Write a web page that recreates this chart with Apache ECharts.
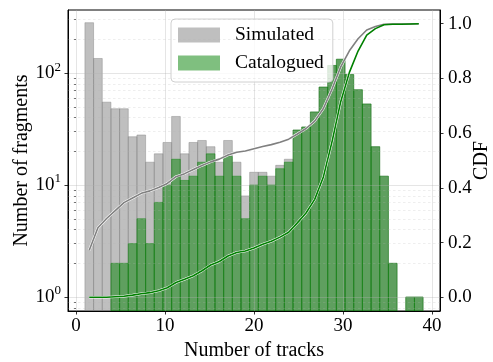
<!DOCTYPE html>
<html>
<head>
<meta charset="utf-8">
<script src="https://cdn.jsdelivr.net/npm/echarts@6/dist/echarts.min.js"></script>
<style>
  html, body { margin: 0; padding: 0; background: #ffffff; }
  #chart { width: 493px; height: 362px; }
</style>
</head>
<body>
<div id="chart"></div>
<script>
// Histogram bin edges (39 equal bins spanning 1..39 tracks)
const binEdges = [1.000, 1.974, 2.949, 3.923, 4.897, 5.872, 6.846, 7.821, 8.795, 9.769,
  10.744, 11.718, 12.692, 13.667, 14.641, 15.615, 16.590, 17.564, 18.538, 19.513,
  20.487, 21.462, 22.436, 23.410, 24.385, 25.359, 26.333, 27.308, 28.282, 29.256,
  30.231, 31.205, 32.179, 33.154, 34.128, 35.103, 36.077, 37.051, 38.026, 39.000];

// Fragment counts per bin
const simulatedCounts = [282, 135, 55, 48, 48, 27, 28, 16, 19, 24,
  41, 19, 24, 25, 22, 16, 25, 16, 8, 13,
  13, 12, 15, 17, 31, 33, 45, 75, 117, 133,
  97, 71, 53, 22, 12, 2, 0, 1, 1];
const cataloguedCounts = [0, 0, 0, 2, 2, 3, 5, 3, 7, 10,
  17, 11, 12, 16, 19, 12, 18, 12, 5, 10,
  12, 10, 14, 16, 31, 33, 45, 75, 117, 133,
  97, 71, 53, 22, 12, 2, 0, 1, 1];

// Cumulative fractions at each bin centre
const simulatedCdf = [0.172, 0.254, 0.288, 0.317, 0.346, 0.363, 0.380, 0.389, 0.401, 0.416,
  0.441, 0.452, 0.467, 0.482, 0.495, 0.505, 0.520, 0.530, 0.535, 0.543,
  0.551, 0.558, 0.567, 0.578, 0.597, 0.617, 0.644, 0.690, 0.761, 0.842,
  0.901, 0.945, 0.977, 0.990, 0.998, 0.999, 0.999, 0.999, 1.000];
const cataloguedCdf = [0.000, 0.000, 0.000, 0.002, 0.004, 0.008, 0.013, 0.017, 0.024, 0.035,
  0.054, 0.066, 0.079, 0.097, 0.118, 0.131, 0.151, 0.164, 0.169, 0.180,
  0.194, 0.205, 0.220, 0.238, 0.272, 0.308, 0.358, 0.440, 0.569, 0.715,
  0.822, 0.900, 0.958, 0.982, 0.996, 0.998, 0.998, 0.999, 1.000];

// Axis ticks
const xTicks = [0, 10, 20, 30, 40];
const cdfTicks = [0, 0.2, 0.4, 0.6, 0.8, 1.0];
const logMajorTicks = [1, 10, 100];
const logMinorTicks = [0.8, 0.9, 2, 3, 4, 5, 6, 7, 8, 9, 20, 30, 40, 50, 60, 70, 80, 90, 200, 300];

const FONT = 'Liberation Serif';
const gridColor = 'rgba(176,176,176,0.42)';
const minorGridColor = 'rgba(176,176,176,0.28)';

const binCentres = binEdges.slice(0, -1).map((lo, i) => (lo + binEdges[i + 1]) / 2);
const histData = counts => counts.map((c, i) => [binEdges[i], binEdges[i + 1], c]);
const cdfData = cdf => cdf.map((v, i) => [binCentres[i], v]);

function histItem(fill, stroke) {
  return function (params, api) {
    const v = api.value(2);
    if (!(v > 0)) return null;
    const a = api.coord([api.value(0), v]);
    const b = api.coord([api.value(1), v]);
    const base = params.coordSys.y + params.coordSys.height;
    return {
      type: 'rect',
      shape: { x: a[0], y: a[1], width: b[0] - a[0], height: base - a[1] },
      style: { fill: fill, stroke: stroke, lineWidth: 0.8 }
    };
  };
}

const chart = echarts.init(document.getElementById('chart'), null, { renderer: 'canvas' });

chart.setOption({
  animation: false,
  backgroundColor: '#ffffff',
  grid: {
    left: 68, right: 53, top: 10, bottom: 51,
    containLabel: false,
    outerBoundsMode: 'none',
    show: true, borderColor: '#000000', borderWidth: 1, backgroundColor: 'transparent'
  },
  legend: {
    left: 171, top: 19,
    orient: 'vertical',
    z: 5,
    itemWidth: 42, itemHeight: 15, itemGap: 8,
    padding: [6, 9, 9, 7],
    backgroundColor: 'rgba(255,255,255,0.8)',
    borderColor: '#d0d0d0', borderWidth: 1, borderRadius: 4,
    icon: 'rect',
    textStyle: { fontFamily: FONT, fontSize: 19.5, color: '#000000', padding: [0, 0, 0, 10] },
    data: [
      { name: 'Simulated', itemStyle: { color: 'rgba(128,128,128,0.5)', borderWidth: 0 } },
      { name: 'Catalogued', itemStyle: { color: 'rgba(0,128,0,0.5)', borderWidth: 0 } }
    ]
  },
  xAxis: {
    type: 'value', min: -0.9, max: 40.9, z: 3,
    axisLine: { onZero: false, lineStyle: { color: '#000000', width: 1 } },
    axisTick: { length: 3.5, customValues: xTicks, lineStyle: { color: '#000000', width: 0.8 } },
    axisLabel: { customValues: xTicks, margin: 6, fontFamily: FONT, fontSize: 19, color: '#000000' },
    splitLine: { show: true, lineStyle: { color: gridColor, width: 0.8 } },
    name: 'Number of tracks', nameLocation: 'middle', nameGap: 30, nameMoveOverlap: false,
    nameTextStyle: { fontFamily: FONT, fontSize: 20, color: '#000000' }
  },
  yAxis: [
    {
      type: 'log', min: 0.75, max: 366, position: 'left', z: 3,
      axisLine: { onZero: false, lineStyle: { color: '#000000', width: 1 } },
      axisTick: { length: 3.5, customValues: logMajorTicks, lineStyle: { color: '#000000', width: 0.8 } },
      axisLabel: {
        customValues: logMajorTicks, margin: 7,
        formatter: v => '{b|10}{s|' + Math.round(Math.log10(v)) + '}',
        rich: {
          b: { fontFamily: FONT, fontSize: 19, color: '#000000' },
          s: { fontFamily: FONT, fontSize: 13, color: '#000000', padding: [0, 0, 12, 0] }
        }
      },
      splitLine: { show: true, lineStyle: { color: gridColor, width: 0.8 } },
      name: 'Number of fragments', nameLocation: 'middle', nameGap: 36, nameRotate: 90,
      nameMoveOverlap: false,
      nameTextStyle: { fontFamily: FONT, fontSize: 20, color: '#000000' }
    },
    {
      type: 'value', min: -0.05, max: 1.05, position: 'right', z: 3,
      axisLine: { onZero: false, lineStyle: { color: '#000000', width: 1 } },
      axisTick: { length: 3.5, customValues: cdfTicks, lineStyle: { color: '#000000', width: 0.8 } },
      axisLabel: {
        customValues: cdfTicks, margin: 8,
        formatter: v => v.toFixed(1),
        fontFamily: FONT, fontSize: 19, color: '#000000'
      },
      splitLine: { show: false },
      name: 'CDF', nameLocation: 'middle', nameGap: 32, nameRotate: 90,
      nameMoveOverlap: false,
      nameTextStyle: { fontFamily: FONT, fontSize: 20, color: '#000000' }
    },
    {
      // minor ticks of the logarithmic axis
      type: 'log', min: 0.75, max: 366, position: 'left', z: 3,
      axisLine: { show: false },
      axisTick: { length: 2, customValues: logMinorTicks, lineStyle: { color: '#000000', width: 0.6 } },
      axisLabel: { show: false },
      splitLine: { show: false }
    }
  ],
  series: [
    {
      name: 'Simulated', type: 'custom', xAxisIndex: 0, yAxisIndex: 0, z: 2,
      itemStyle: { color: 'rgba(128,128,128,0.5)' },
      encode: { x: [0, 1], y: 2 },
      renderItem: histItem('rgba(128,128,128,0.5)', 'rgba(128,128,128,0.55)'),
      data: histData(simulatedCounts)
    },
    {
      name: 'Catalogued', type: 'custom', xAxisIndex: 0, yAxisIndex: 0, z: 2,
      itemStyle: { color: 'rgba(0,128,0,0.5)' },
      encode: { x: [0, 1], y: 2 },
      renderItem: histItem('rgba(0,128,0,0.5)', 'rgba(0,128,0,0.55)'),
      data: histData(cataloguedCounts)
    },
    {
      // dashed minor grid of the logarithmic axis
      name: 'minorGrid', type: 'line', xAxisIndex: 0, yAxisIndex: 0, z: 3,
      data: [], silent: true,
      markLine: {
        silent: true, symbol: 'none', animation: false,
        label: { show: false },
        lineStyle: { color: minorGridColor, width: 0.8, type: [2.5, 2.5] },
        data: logMinorTicks.map(v => ({ yAxis: v }))
      }
    },
    {
      type: 'line', yAxisIndex: 1, z: 9, showSymbol: false, silent: true,
      lineStyle: { color: '#ffffff', width: 2.6 },
      data: cdfData(simulatedCdf)
    },
    {
      type: 'line', yAxisIndex: 1, z: 10, showSymbol: false, silent: true,
      lineStyle: { color: '#808080', width: 1.6 },
      data: cdfData(simulatedCdf)
    },
    {
      type: 'line', yAxisIndex: 1, z: 9, showSymbol: false, silent: true,
      lineStyle: { color: '#ffffff', width: 2.6 },
      data: cdfData(cataloguedCdf)
    },
    {
      type: 'line', yAxisIndex: 1, z: 10, showSymbol: false, silent: true,
      lineStyle: { color: '#008000', width: 1.6 },
      data: cdfData(cataloguedCdf)
    }
  ]
});
</script>
</body>
</html>
